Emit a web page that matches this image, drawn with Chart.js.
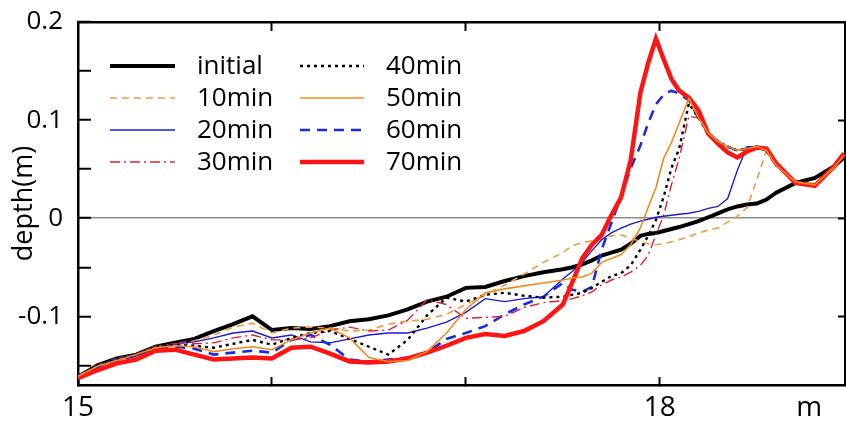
<!DOCTYPE html>
<html>
<head>
<meta charset="utf-8">
<script src="https://cdn.jsdelivr.net/npm/chart.js@4.4.1/dist/chart.umd.min.js"></script>
<style>
  html, body { margin: 0; padding: 0; background: #fff; }
  #wrap { width: 846px; height: 421px; }
</style>
</head>
<body>
<div id="wrap"><canvas id="chart" width="846" height="421"></canvas></div>
<script>
// position along the section (m)
const positions = [
  15.0, 15.1, 15.2, 15.3, 15.4, 15.5, 15.6, 15.7, 15.8, 15.9,
  16.0, 16.1, 16.2, 16.3, 16.4, 16.5, 16.6, 16.7, 16.8, 16.9,
  17.0, 17.1, 17.2, 17.3, 17.4, 17.5, 17.55, 17.6, 17.65, 17.7,
  17.75, 17.8, 17.85, 17.9, 17.94, 17.98, 18.02, 18.06, 18.1, 18.15,
  18.2, 18.25, 18.3, 18.35, 18.4, 18.45, 18.5, 18.55, 18.6, 18.7,
  18.8, 18.9, 18.95,
];

const depthInitial = [
  -0.162, -0.150, -0.143, -0.139, -0.131, -0.127, -0.123, -0.115, -0.108, -0.100,
  -0.114, -0.112, -0.113, -0.110, -0.105, -0.103, -0.099, -0.093, -0.085, -0.080,
  -0.071, -0.070, -0.064, -0.059, -0.055, -0.052, -0.050, -0.047, -0.043, -0.038,
  -0.035, -0.032, -0.026, -0.018, -0.016, -0.015, -0.013, -0.011, -0.009, -0.006,
  -0.003, 0.001, 0.005, 0.009, 0.012, 0.014, 0.015, 0.019, 0.026, 0.036,
  0.041, 0.053, 0.062,
];
const depth10 = [
  -0.162, -0.150, -0.143, -0.139, -0.131, -0.128, -0.125, -0.119, -0.111, -0.107,
  -0.117, -0.112, -0.111, -0.112, -0.115, -0.114, -0.108, -0.105, -0.103, -0.098,
  -0.088, -0.078, -0.068, -0.057, -0.045, -0.035, -0.028, -0.025, -0.023, -0.021,
  -0.018, -0.017, -0.020, -0.024, -0.026, -0.027, -0.026, -0.024, -0.022, -0.019,
  -0.015, -0.012, -0.010, -0.004, 0.002, 0.011, 0.039, 0.069, 0.056, 0.037,
  0.035, 0.052, 0.064,
];
const depth20 = [
  -0.162, -0.150, -0.143, -0.139, -0.131, -0.128, -0.126, -0.122, -0.117, -0.115,
  -0.122, -0.119, -0.126, -0.127, -0.123, -0.119, -0.117, -0.117, -0.112, -0.106,
  -0.096, -0.082, -0.085, -0.082, -0.080, -0.062, -0.054, -0.045, -0.033, -0.022,
  -0.015, -0.010, -0.006, -0.003, -0.001, 0.001, 0.002, 0.003, 0.004, 0.005,
  0.007, 0.010, 0.012, 0.020, 0.049, 0.073, 0.073, 0.070, 0.055, 0.037,
  0.033, 0.051, 0.063,
];
const depth30 = [
  -0.161, -0.150, -0.144, -0.139, -0.131, -0.128, -0.128, -0.127, -0.122, -0.119,
  -0.124, -0.124, -0.122, -0.114, -0.111, -0.115, -0.114, -0.104, -0.083, -0.088,
  -0.102, -0.101, -0.100, -0.091, -0.086, -0.084, -0.082, -0.079, -0.075, -0.068,
  -0.063, -0.060, -0.055, -0.048, -0.038, -0.017, 0.003, 0.034, 0.061, 0.104,
  0.102, 0.087, 0.078, 0.073, 0.069, 0.071, 0.073, 0.069, 0.054, 0.037,
  0.034, 0.052, 0.064,
];
const depth40 = [
  -0.161, -0.150, -0.144, -0.139, -0.131, -0.129, -0.130, -0.132, -0.128, -0.124,
  -0.129, -0.122, -0.117, -0.115, -0.123, -0.131, -0.139, -0.124, -0.099, -0.081,
  -0.085, -0.078, -0.076, -0.079, -0.081, -0.080, -0.078, -0.076, -0.071, -0.065,
  -0.059, -0.056, -0.048, -0.032, -0.018, -0.002, 0.022, 0.051, 0.071, 0.117,
  0.102, 0.087, 0.078, 0.073, 0.069, 0.071, 0.073, 0.069, 0.054, 0.037,
  0.034, 0.052, 0.064,
];
const depth50 = [
  -0.161, -0.151, -0.145, -0.139, -0.132, -0.130, -0.131, -0.136, -0.133, -0.131,
  -0.134, -0.124, -0.117, -0.112, -0.122, -0.142, -0.146, -0.145, -0.136, -0.117,
  -0.093, -0.076, -0.072, -0.069, -0.066, -0.063, -0.061, -0.060, -0.056, -0.045,
  -0.041, -0.037, -0.027, -0.010, 0.011, 0.031, 0.061, 0.077, 0.097, 0.122,
  0.102, 0.087, 0.078, 0.073, 0.069, 0.071, 0.073, 0.069, 0.054, 0.037,
  0.034, 0.052, 0.064,
];
const depth60 = [
  -0.160, -0.152, -0.145, -0.140, -0.133, -0.131, -0.133, -0.139, -0.137, -0.135,
  -0.137, -0.124, -0.119, -0.129, -0.144, -0.146, -0.144, -0.142, -0.137, -0.123,
  -0.117, -0.110, -0.098, -0.088, -0.080, -0.066, -0.073, -0.075, -0.070, -0.032,
  -0.005, 0.022, 0.051, 0.074, 0.097, 0.116, 0.126, 0.130, 0.127, 0.120,
  0.102, 0.087, 0.078, 0.073, 0.069, 0.071, 0.073, 0.069, 0.054, 0.037,
  0.034, 0.052, 0.064,
];
const depth70 = [
  -0.163, -0.155, -0.148, -0.144, -0.135, -0.134, -0.139, -0.144, -0.143, -0.142,
  -0.143, -0.132, -0.131, -0.138, -0.146, -0.147, -0.146, -0.143, -0.137, -0.130,
  -0.122, -0.118, -0.120, -0.115, -0.105, -0.088, -0.065, -0.041, -0.027, -0.017,
  0.003, 0.021, 0.059, 0.128, 0.158, 0.183, 0.162, 0.142, 0.130, 0.123,
  0.110, 0.086, 0.076, 0.067, 0.062, 0.068, 0.072, 0.071, 0.056, 0.036,
  0.033, 0.053, 0.066,
];

const seriesLabels = ['initial', '10min', '20min', '30min', '40min', '50min', '60min', '70min'];

const xTickValues = [15, 16, 17, 18, 18.77];
const xTickLabels = ['15', '', '', '18', 'm'];
const yTickValues = [-0.15, -0.1, -0.05, 0, 0.05, 0.1, 0.15, 0.2];
const yTickLabels = ['', '-0.1', '', '0', '', '0.1', '', '0.2'];

const X_MIN = 15;
const X_MAX = 18.955;
const Y_MIN = -0.17;
const Y_MAX = 0.2;

function toPoints(values) {
  return positions.map((x, i) => ({ x, y: values[i] }));
}

// the ticks point inward, so the label padding must not push the plot area
function dropLabelPadding(scale) {
  scale.paddingTop = 0;
  scale.paddingBottom = 0;
  scale.paddingLeft = 0;
  scale.paddingRight = 0;
}

const lineStyles = [
  { data: depthInitial, color: '#000000', width: 4, dash: [], order: 7 },
  { data: depth10, color: '#f39a3c', width: 1.6, dash: [7, 5], order: 6 },
  { data: depth20, color: '#1a1ad2', width: 1.4, dash: [], order: 5 },
  { data: depth30, color: '#e0202a', width: 1.4, dash: [10, 4, 2, 4], order: 3 },
  { data: depth40, color: '#000000', width: 2.4, dash: [3, 4], order: 2 },
  { data: depth50, color: '#f08a1e', width: 1.6, dash: [], order: 0 },
  { data: depth60, color: '#1a2ae0', width: 2.6, dash: [10, 7], order: 4 },
  { data: depth70, color: '#ff1414', width: 4.5, dash: [], order: 1 },
];

// two-column legend inside the plot, like the original figure
const LEGEND_COLUMNS = [
  { lineStart: 110, lineEnd: 175, textX: 197 },
  { lineStart: 300, lineEnd: 364, textX: 386 },
];
const LEGEND_TOP = 66;
const LEGEND_ROW = 32;

const legendPlugin = {
  id: 'twoColumnLegend',
  afterDraw(chart) {
    const { ctx } = chart;
    ctx.save();
    ctx.font = "26px 'Open Sans', sans-serif";
    ctx.textBaseline = 'middle';
    ctx.fillStyle = '#000';
    chart.data.datasets.forEach((ds, i) => {
      const col = LEGEND_COLUMNS[i < 4 ? 0 : 1];
      const y = LEGEND_TOP + (i % 4) * LEGEND_ROW;
      ctx.beginPath();
      ctx.strokeStyle = ds.borderColor;
      ctx.lineWidth = ds.borderWidth;
      ctx.setLineDash(ds.borderDash);
      ctx.moveTo(col.lineStart, y);
      ctx.lineTo(col.lineEnd, y);
      ctx.stroke();
      ctx.setLineDash([]);
      ctx.fillText(ds.label, col.textX, y + 1);
    });
    ctx.restore();
  },
};

Chart.defaults.font.family = "'Open Sans', sans-serif";
Chart.defaults.color = '#000';

new Chart(document.getElementById('chart'), {
  type: 'line',
  data: {
    datasets: lineStyles.map((s, i) => ({
      label: seriesLabels[i],
      data: toPoints(s.data),
      borderColor: s.color,
      borderWidth: s.width,
      borderDash: s.dash,
      order: s.order,
      pointRadius: 0,
      tension: 0,
      fill: false,
    })),
  },
  options: {
    responsive: false,
    animation: false,
    devicePixelRatio: 1,
    layout: { padding: { top: 22, right: 1, left: 0, bottom: 0 } },
    plugins: {
      legend: { display: false },
      tooltip: { enabled: false },
    },
    scales: {
      x: {
        type: 'linear',
        position: 'bottom',
        min: X_MIN,
        max: X_MAX,
        afterBuildTicks(scale) {
          scale.ticks = xTickValues.map((v) => ({ value: v }));
        },
        afterFit(scale) {
          scale.height = 36;
          dropLabelPadding(scale);
        },
        grid: {
          drawOnChartArea: false,
          tickLength: -8,
          tickWidth: 2,
          tickColor: (ctx) => (xTickLabels[ctx.index] === 'm' ? 'rgba(0,0,0,0)' : '#000'),
        },
        border: { color: '#000', width: 2.5 },
        ticks: {
          autoSkip: false,
          maxRotation: 0,
          padding: 14,
          font: { size: 28 },
          callback: (value, index) => xTickLabels[index],
        },
      },
      xTop: {
        type: 'linear',
        position: 'top',
        min: X_MIN,
        max: X_MAX,
        afterBuildTicks(scale) {
          scale.ticks = [16, 17, 18].map((v) => ({ value: v }));
        },
        afterFit(scale) {
          scale.height = 0;
          dropLabelPadding(scale);
        },
        grid: { drawOnChartArea: false, tickLength: -9, tickWidth: 2, tickColor: '#000' },
        border: { color: '#000', width: 2.5 },
        ticks: { display: false },
      },
      y: {
        type: 'linear',
        position: 'left',
        min: Y_MIN,
        max: Y_MAX,
        afterBuildTicks(scale) {
          scale.ticks = yTickValues.map((v) => ({ value: v }));
        },
        afterFit(scale) {
          scale.width = 78;
          dropLabelPadding(scale);
        },
        grid: {
          drawOnChartArea: true,
          color: (ctx) => (ctx.tick && ctx.tick.value === 0 ? '#8c8c8c' : 'rgba(0,0,0,0)'),
          lineWidth: 1.5,
          tickLength: -13,
          tickWidth: 2,
          tickColor: '#000',
        },
        border: { color: '#000', width: 2.5 },
        ticks: {
          padding: 28,
          font: { size: 26 },
          callback: (value, index) => yTickLabels[index],
        },
        title: {
          display: true,
          text: 'depth(m)',
          font: { size: 27 },
          padding: { top: 8, bottom: 0 },
        },
      },
      yRight: {
        type: 'linear',
        position: 'right',
        min: Y_MIN,
        max: Y_MAX,
        afterBuildTicks(scale) {
          scale.ticks = [-0.1, 0, 0.1].map((v) => ({ value: v }));
        },
        afterFit(scale) {
          scale.width = 0;
          dropLabelPadding(scale);
        },
        grid: { drawOnChartArea: false, tickLength: -7, tickWidth: 2, tickColor: '#000' },
        border: { color: '#000', width: 2.5 },
        ticks: { display: false },
      },
    },
  },
  plugins: [legendPlugin],
});
</script>
</body>
</html>
